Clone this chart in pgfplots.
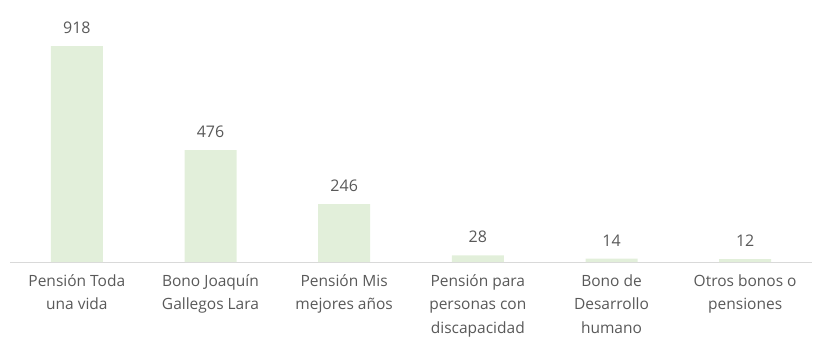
\documentclass[border=0pt]{standalone}
\usepackage{pgfplots}
\pgfplotsset{compat=1.18}
\usepackage{fontspec}
\setmainfont{Open Sans}
\definecolor{barg}{HTML}{E2EFDA}
\definecolor{txt}{HTML}{595959}
\definecolor{axl}{HTML}{D9D9D9}
\begin{document}
\begin{tikzpicture}
\begin{axis}[
  at={(0,0)}, anchor=south west,
  scale only axis,
  width=802pt, height=262pt,
  ymin=0, ymax=1113.6,
  xmin=-0.5, xmax=5.5,
  axis y line=none,
  axis x line*=bottom,
  x axis line style={axl, line width=1pt},
  xtick=data,
  major tick length=0pt,
  xticklabels={{Pensión Toda\\una vida},{Bono Joaquín\\Gallegos Lara},{Pensión Mis\\mejores años},{Pensión para\\personas con\\discapacidad},{Bono de\\Desarrollo\\humano},{Otros bonos o\\pensiones}},
  xticklabel style={align=center, text=txt, font=\fontsize{15.5}{23.5}\selectfont, anchor=north, yshift=-9pt},
  ybar, bar width=52pt,
  nodes near coords,
  every node near coord/.append style={text=txt, font=\fontsize{16}{17}\selectfont, yshift=9pt},
  /pgf/number format/assume math mode=true,
  clip=false,
]
\addplot[fill=barg, draw=none] coordinates {(0,918) (1,476) (2,246) (3,28) (4,14) (5,12)};
\end{axis}
\pgfresetboundingbox
\path (-10pt,-83pt) rectangle (803pt,262pt);
\end{tikzpicture}
\end{document}
